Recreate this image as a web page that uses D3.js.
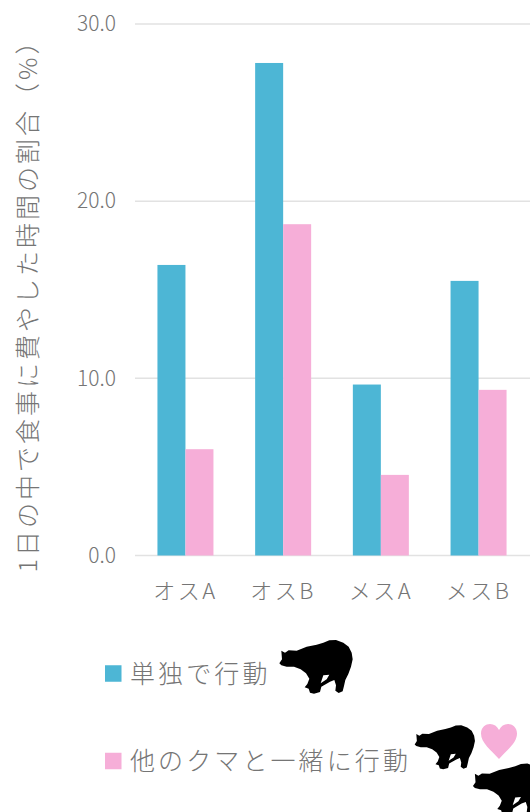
<!DOCTYPE html>
<html lang="ja">
<head>
<meta charset="utf-8">
<script src="https://cdn.jsdelivr.net/npm/d3@7"></script>
<style>
  html, body { margin: 0; padding: 0; background: #fff; overflow: hidden; }
  svg { display: block; }
  text { font-family: "Noto Sans CJK JP", "Noto Sans", sans-serif; font-weight: 300; fill: #757575; }
  .axis path, .axis line { display: none; }
</style>
</head>
<body>
<div id="chart"></div>
<script>
// Data
const categories = ['オスA', 'オスB', 'メスA', 'メスB'];
const aloneValues = [16.4, 27.8, 9.65, 15.5];
const togetherValues = [6.0, 18.7, 4.55, 9.35];
const yTicks = [0, 10, 20, 30];
const seriesNames = ['単独で行動', '他のクマと一緒に行動'];
const seriesColors = ['#4db6d5', '#f6aed8'];
const yTitle = '1日の中で食事に費やした時間の割合（%）';

const W = 530, H = 812;

const svg = d3.select('#chart').append('svg')
  .attr('width', W)
  .attr('height', H);

// Scales
const xScale = d3.scaleBand()
  .domain(categories)
  .range([136.6, 527.4]);

const yScale = d3.scaleLinear()
  .domain([0, 30])
  .range([555.5, 24]);

const barW = 28;

// Grid
svg.append('g').selectAll('line')
  .data(yTicks)
  .join('line')
  .attr('x1', 135)
  .attr('x2', W)
  .attr('y1', d => yScale(d))
  .attr('y2', d => yScale(d))
  .attr('stroke', '#e2e2e2')
  .attr('stroke-width', 1.5);

// Axes
svg.append('g').attr('class', 'axis')
  .attr('transform', 'translate(116,0)')
  .call(d3.axisLeft(yScale).tickValues(yTicks).tickSize(0).tickPadding(0).tickFormat(d3.format('.1f')))
  .call(g => g.selectAll('text').attr('font-size', '21px'))
  .call(g => g.attr('font-family', null));

svg.append('g').attr('class', 'axis')
  .attr('transform', 'translate(0,587)')
  .call(d3.axisBottom(xScale).tickSize(0).tickPadding(0))
  .call(g => g.selectAll('text').attr('font-size', '22px').attr('letter-spacing', '2.5px').attr('dy', '0.55em'))
  .call(g => g.attr('font-family', null));

// Y title
svg.append('text')
  .attr('transform', 'translate(26,299.5) rotate(-90)')
  .attr('text-anchor', 'middle')
  .attr('dominant-baseline', 'central')
  .attr('font-size', '25px')
  .attr('letter-spacing', '3px')
  .text(yTitle);

// Bars
[aloneValues, togetherValues].forEach((values, s) => {
  svg.append('g').selectAll('rect')
    .data(values)
    .join('rect')
    .attr('x', (d, i) => xScale(categories[i]) + xScale.bandwidth() / 2 + (s - 1) * barW)
    .attr('y', d => yScale(d))
    .attr('width', barW)
    .attr('height', d => yScale(0) - yScale(d))
    .attr('fill', seriesColors[s]);
});

// Legend
const legendY = [673.5, 761];
seriesNames.forEach((name, i) => {
  svg.append('rect')
    .attr('x', 105)
    .attr('y', legendY[i] - 8.25)
    .attr('width', 16.5)
    .attr('height', 16.5)
    .attr('fill', seriesColors[i]);
  svg.append('text')
    .attr('x', 130)
    .attr('y', legendY[i] - 2)
    .attr('dominant-baseline', 'central')
    .attr('font-size', '25px')
    .attr('letter-spacing', '3.1px')
    .text(name);
});

// Bear icon, outline in its own 285x210 box
const bearPath = 'M28,100 L36,88 L34,62 L45,68 L56,61 L80,62 L110,50 L140,44 L160,38 L178,31 L198,30 ' +
  'L220,38 L236,50 L245,68 L248,88 L243,110 L235,132 L226,150 L222,168 L218,184 L206,189 L196,182 ' +
  'L198,166 L193,150 L180,155 L154,170 L150,186 ' +
  'L132,191 L120,188 L116,176 L104,172 L112,162 L118,146 L108,130 L92,118 L72,110 L50,110 L34,106 Z ' +
  'M160,136 L178,134 L170,148 L152,160 Z';

function drawBear(x, y, k) {
  svg.append('path')
    .attr('d', bearPath)
    .attr('fill-rule', 'evenodd')
    .attr('transform', `translate(${x},${y}) scale(${k})`)
    .attr('fill', '#000');
}
drawBear(270, 630, 1 / 3);
drawBear(407, 717, 0.274);
drawBear(464, 754, 0.32);

// Heart
svg.append('path')
  .attr('d', 'M0,35 C-8,26 -18,19 -18,9.5 C-18,3 -13,0 -9,0 C-5,0 -2,2 0,6 C2,2 5,0 9,0 C13,0 18,3 18,9.5 C18,19 8,26 0,35 Z')
  .attr('transform', 'translate(499,724)')
  .attr('fill', seriesColors[1]);
</script>
</body>
</html>
